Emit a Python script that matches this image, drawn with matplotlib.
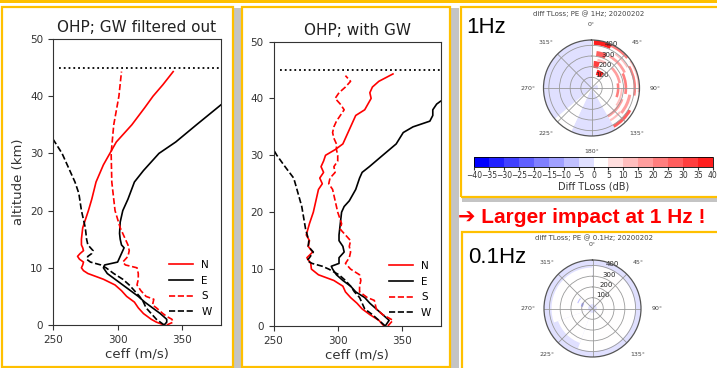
import numpy as np
import matplotlib.pyplot as plt
from matplotlib.patches import Rectangle
from matplotlib.colors import ListedColormap, BoundaryNorm
from matplotlib.cm import ScalarMappable

W, H = 717, 368

# --------------------------
# ceff profiles, GW filtered out (altitude in km, ceff in m/s)
# --------------------------
f_n_alt = [0, 0.5, 1, 2, 3, 4, 5, 6, 7, 8, 9, 9.5, 10, 10.5, 11, 11.5, 12, 12.5, 13, 13.5, 14, 15, 17, 20, 22, 25, 28, 30, 32, 35, 38, 40, 42, 44.3]
f_n_ceff = [336, 330, 326, 320, 316, 313, 307, 303, 298, 289, 277, 273.6, 272, 273, 273.6, 270.5, 269, 271, 273.6, 273, 272, 272, 273, 277.4, 280, 283.3, 289, 294, 299, 311, 321, 327.4, 335, 343]
f_s_alt = [0, 0.5, 1, 1.5, 2, 3, 3.5, 4.5, 5, 6, 7, 8, 9, 10, 10.5, 11, 12, 13, 14, 15, 16, 17, 20, 25, 30, 35, 40, 44.3]
f_s_ceff = [338, 343, 342, 338, 335, 330, 327, 328, 322, 318, 315, 316, 316, 315, 306, 304, 308, 309, 308, 306, 304, 302, 298, 295.5, 295, 297, 301, 303]
f_e_alt = [0, 0.5, 1, 2, 3, 4, 5, 6, 7, 8, 9, 10, 10.5, 11, 11.5, 12, 13, 13.5, 14, 15, 16, 18, 20, 22, 25, 27, 30, 32, 35, 38.5]
f_e_ceff = [336, 338, 338, 333, 327, 321, 316, 310, 304, 298, 292, 289, 290, 300, 301, 302, 304, 305, 303, 302, 301.5, 302, 304, 308, 313, 320, 332, 345, 361, 380]
f_w_alt = [0, 1, 2, 3, 4, 5, 6, 7, 8, 9, 10, 10.5, 11, 11.5, 12, 12.5, 13, 14, 15, 17, 20, 23, 25, 28, 30, 32.5]
f_w_ceff = [336, 330, 326, 322, 320, 317, 313, 309, 304, 297, 291, 287, 279, 276, 277, 280, 281, 277, 276, 275, 272, 270, 267, 261, 257, 250]

# --------------------------
# ceff profiles, with GW
# --------------------------
g_n_alt = [0, 1, 2, 3, 4, 5, 6, 7, 8, 9, 10, 11, 12, 13, 14, 15, 16, 18, 20, 22, 24, 25, 26, 27, 28, 29, 30, 31, 32, 33, 35, 37, 38, 40, 41, 42, 43, 44.3]
g_n_ceff = [336, 332, 325, 319, 315, 310, 306, 304, 297, 285, 279.5, 279, 276, 280.5, 277, 278, 275.5, 278, 281, 283, 285, 288, 286, 289, 287, 289, 290.5, 298, 304, 306, 310, 314, 321, 326, 325, 327, 332, 343]
g_s_alt = [0, 1, 2, 3, 4.5, 5, 6, 7, 8, 9, 10, 11, 12, 13, 14, 15, 16, 17, 18, 20, 22, 24, 25, 26, 27, 28, 29, 30, 31, 32, 33, 34, 35, 36, 37, 38, 39, 40, 41, 42, 43, 44]
g_s_ceff = [339, 343, 335, 330, 328.5, 323, 317, 317, 318, 317, 310, 306, 309, 310, 309, 310, 306, 302, 303, 300, 298, 296, 293, 294, 298, 297, 300, 300, 299, 299, 297, 296, 297, 299, 302, 305, 302, 298, 301, 306, 310, 306]
g_e_alt = [0, 1, 2, 3, 4, 5, 6, 7, 8, 9, 10, 10.5, 11, 12, 13, 14, 15, 16, 17, 18, 20, 21, 22, 24, 26, 27, 28, 30, 32, 34, 35, 36, 37, 38, 39, 39.5]
g_e_ceff = [337, 340, 335, 330, 325, 321, 314, 310, 304, 299, 296, 295, 301, 301, 305, 304, 301, 301, 301.5, 302, 303, 305, 309, 314, 317, 319, 324.6, 335, 345.5, 351, 358.6, 371.7, 374, 374, 377, 380]
g_w_alt = [0, 1, 2, 3, 4, 5, 6, 7, 8, 9, 10, 10.5, 11, 11.5, 12, 13, 14, 15, 17, 19, 21, 23, 25, 26, 28, 30, 31, 32, 33, 34]
g_w_ceff = [337, 332, 327, 321, 319, 317, 313, 310, 306, 301, 293, 288, 280, 276, 278, 281, 277, 277.5, 275, 273.5, 272, 269.5, 267, 265.7, 259, 252.6, 250, 249.5, 250, 250]

# --------------------------
# diff TLoss maps: (azimuth0, azimuth1 [deg], range0, range1 [km], dB)
# --------------------------
hz1_cells = [
    (0, 150, 0, 450, 1), (150, 205, 0, 450, -2), (205, 230, 0, 450, 1), (230, 360, 0, 450, -2),
    (60, 110, 0, 60, -2),
    (3, 25, 405, 450, 38), (25, 50, 425, 450, 24), (8, 24, 300, 350, 28),
    (5, 18, 190, 255, 32), (18, 40, 130, 180, 38), (30, 65, 330, 355, 18),
    (65, 100, 310, 335, 22), (100, 130, 350, 378, 18), (45, 80, 255, 280, 16),
    (80, 110, 238, 262, 22), (110, 150, 292, 318, 18), (120, 150, 400, 430, 28),
    (60, 100, 395, 418, 22), (55, 95, 435, 450, 14), (130, 150, 340, 360, 12),
    (35, 60, 380, 398, 12), (90, 125, 275, 292, 14), (12, 30, 255, 280, 14),
]
hz01_cells = [
    (0, 360, 0, 450, -2),
    (0, 200, 40, 395, 1), (200, 250, 40, 340, 1), (250, 360, 40, 380, 1),
    (280, 300, 90, 110, -12), (290, 310, 140, 150, -8), (262, 268, 95, 105, 12),
]
levels = list(range(-40, 45, 5))
az_labels = [f'{a}\u00b0' for a in range(0, 360, 45)]
r_ticks = [100, 200, 300, 400]


def box(x, y, w, h):
    # pixel box with top-left origin -> figure fraction
    return [x / W, 1 - (y + h) / H, w / W, h / H]


fig = plt.figure(figsize=(W / 100, H / 100), dpi=100)

# slide decoration: top rule, shadows and frames
ORANGE = '#ffc000'
for x, y, w, h in [(234, 8, 7, 360), (451, 8, 8, 360), (462, 197, 255, 5)]:
    fig.add_artist(Rectangle((x / W, 1 - (y + h) / H), w / W, h / H, transform=fig.transFigure,
                             color='#c4c4c4', lw=0, zorder=-3))
fig.add_artist(Rectangle((0, 1 - 2.5 / H), 1, 2.5 / H, transform=fig.transFigure, color=ORANGE, lw=0))
for x, y, w, h in [(2, 7, 231, 360), (242, 7, 208, 360), (461, 7, 262, 190), (462, 232, 262, 150)]:
    fig.add_artist(Rectangle((x / W, 1 - (y + h) / H), w / W, h / H, transform=fig.transFigure,
                             fill=False, edgecolor=ORANGE, lw=1.6, zorder=-1))


def profile(rect, title, curves, ylabel=False):
    ax = fig.add_axes(box(*rect))
    for alt, ceff, color, ls, name in curves:
        ax.plot(ceff, alt, color=color, ls=ls, lw=1.2, label=name)
    ax.hlines(45, 255, 380, colors='k', linestyles=':', lw=1.3)
    ax.set_xlim(250, 380)
    ax.set_ylim(0, 50)
    ax.set_xticks([250, 300, 350])
    ax.set_yticks(range(0, 51, 10))
    ax.tick_params(labelsize=7.5, length=3.5, width=0.8, colors='#333')
    for s in ax.spines.values():
        s.set_linewidth(0.8)
        s.set_color('#333')
    ax.set_xlabel('ceff (m/s)', fontsize=9.5, color='#333', labelpad=2)
    if ylabel:
        ax.set_ylabel('altitude (km)', fontsize=9.5, color='#333')
    ax.set_title(title, fontsize=11, color='#222', pad=5)
    ax.legend(loc='lower right', frameon=False, fontsize=7.5, handlelength=2.3,
              labelspacing=0.55, bbox_to_anchor=(1.0, -0.005))
    return ax


profile((53, 39, 168, 286), 'OHP; GW filtered out',
        [(f_n_alt, f_n_ceff, 'red', '-', 'N'), (f_e_alt, f_e_ceff, 'black', '-', 'E'),
         (f_s_alt, f_s_ceff, 'red', '--', 'S'), (f_w_alt, f_w_ceff, 'black', '--', 'W')], ylabel=True)
profile((273.5, 41.5, 167, 284.5), 'OHP; with GW',
        [(g_n_alt, g_n_ceff, 'red', '-', 'N'), (g_e_alt, g_e_ceff, 'black', '-', 'E'),
         (g_s_alt, g_s_ceff, 'red', '--', 'S'), (g_w_alt, g_w_ceff, 'black', '--', 'W')])

cmap = ListedColormap(plt.get_cmap('bwr')(np.arange(16) / 16))
norm = BoundaryNorm(levels, 16)


def polar(rect, cells):
    ax = fig.add_axes(box(*rect), projection='polar')
    ax.set_theta_zero_location('N')
    ax.set_theta_direction(-1)
    for t0, t1, r0, r1, v in cells:
        ax.bar(np.deg2rad((t0 + t1) / 2), r1 - r0, width=np.deg2rad(t1 - t0), bottom=r0,
               color=cmap(norm(v)), lw=0)
    ax.set_ylim(0, 450)
    ax.set_thetagrids(range(0, 360, 45), az_labels, fontsize=4.5, color='#444')
    ax.set_rgrids(r_ticks, [str(r) for r in r_ticks], angle=18, fontsize=5, color='#222')
    ax.tick_params(axis='x', pad=1)
    ax.grid(color='#9a9a9a', lw=0.6)
    ax.spines['polar'].set_color('#555')
    ax.spines['polar'].set_linewidth(0.9)
    return ax


polar((543.5, 40, 96, 96), hz1_cells)
polar((544, 260, 97, 97), hz01_cells)

cax = fig.add_axes(box(474, 157, 239, 9.5))
cb = fig.colorbar(ScalarMappable(norm=norm, cmap=cmap), cax=cax, orientation='horizontal', ticks=levels)
cb.ax.tick_params(labelsize=5.5, length=2, pad=1, colors='#333')
cb.outline.set_linewidth(0.6)
cb.set_label('Diff TLoss (dB)', fontsize=7, labelpad=1, color='#333')

fig.text(589 / W, 1 - 14 / H, 'diff TLoss; PE @ 1Hz; 20200202', fontsize=5, color='#444', ha='center', va='center')
fig.text(594 / W, 1 - 238 / H, 'diff TLoss; PE @ 0.1Hz; 20200202', fontsize=5, color='#444', ha='center', va='center')
fig.text(466 / W, 1 - 33 / H, '1Hz', fontsize=16, family=['Liberation Sans', 'DejaVu Sans'], color='black')
fig.text(468 / W, 1 - 263 / H, '0.1Hz', fontsize=16, family=['Liberation Sans', 'DejaVu Sans'], color='black')
fig.text(458 / W, 1 - 223 / H, '\u2794 Larger impact at 1 Hz !', fontsize=15, fontweight='bold',
         family=['Liberation Sans', 'DejaVu Sans'], color='#ff0000')

fig.savefig('out.png', dpi=100)
